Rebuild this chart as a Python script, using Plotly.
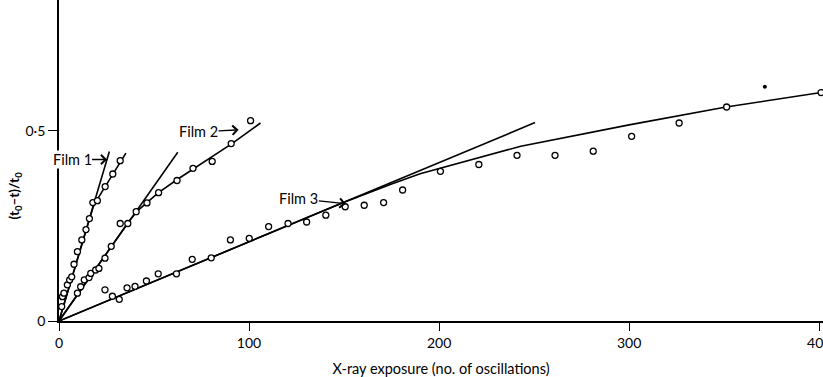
import plotly.graph_objects as go

# ---- data ----
film1_x = [1.4, 1.8, 2.6, 4.4, 5.6, 6.7, 7.9, 9.7, 12.0, 14.2, 16.0, 17.8, 20.2, 24.3, 28.3, 32.2]
film1_y = [0.038, 0.064, 0.073, 0.095, 0.108, 0.116, 0.149, 0.182, 0.213, 0.240, 0.269, 0.311, 0.316, 0.353, 0.386, 0.421]

film2_x = [9.7, 11.4, 13.3, 15.8, 16.7, 19.3, 21.0, 24.2, 27.5, 32.2, 36.2, 40.6, 46.3, 52.4, 62.1, 70.5, 80.6, 90.6, 100.8]
film2_y = [0.073, 0.090, 0.108, 0.114, 0.125, 0.134, 0.138, 0.165, 0.196, 0.256, 0.256, 0.287, 0.310, 0.337, 0.369, 0.401, 0.419, 0.466, 0.526]

film3_x = [24.2, 28.1, 31.7, 35.8, 40.0, 46.0, 52.2, 61.8, 70.1, 80.1, 90.2, 100.1, 110.3, 120.5, 130.3, 140.4,
           150.6, 160.6, 170.8, 180.8, 200.7, 220.9, 241.0, 261.0, 281.1, 301.3, 326.3, 351.3, 401.0]
film3_y = [0.082, 0.065, 0.057, 0.087, 0.091, 0.105, 0.124, 0.124, 0.162, 0.166, 0.213, 0.217, 0.248, 0.256, 0.260, 0.278,
           0.300, 0.304, 0.311, 0.344, 0.393, 0.411, 0.435, 0.435, 0.446, 0.485, 0.520, 0.562, 0.600]

# fitted lines drawn on the figure (initial tangents and smooth curves)
tan1_x = [0, 26.5]
tan1_y = [0, 0.445]
curve1_x = [0, 15, 18, 20, 24, 28, 32, 35.2]
curve1_y = [0, 0.252, 0.300, 0.318, 0.351, 0.384, 0.416, 0.441]

tan2_x = [0, 62.5]
tan2_y = [0, 0.443]
curve2_x = [0, 36, 41, 46, 52, 62, 71, 81, 91, 106]
curve2_y = [0, 0.256, 0.288, 0.311, 0.336, 0.371, 0.400, 0.433, 0.466, 0.520]

tan3_x = [0, 250.5]
tan3_y = [0, 0.521]
curve3_x = [0, 150, 175, 190, 243, 300, 351, 401.0]
curve3_y = [0, 0.312, 0.360, 0.387, 0.459, 0.515, 0.562, 0.600]

speck_x = [371.4]
speck_y = [0.615]

labels = ["Film 1", "Film 2", "Film 3"]
label_tip_x = [25.3, 94.5, 150.9]
label_tip_y = [0.424, 0.502, 0.308]

x_ticks = [0, 100, 200, 300, 400]
y_ticks = [0, 0.5]
y_ticklabels = ["0", "0·5"]

FONT = "Lato, 'Open Sans', sans-serif"

fig = go.Figure()

line_style = dict(color="black", width=1.6)
for lx, ly in [(tan1_x, tan1_y), (curve1_x, curve1_y), (tan2_x, tan2_y),
               (curve2_x, curve2_y), (tan3_x, tan3_y), (curve3_x, curve3_y)]:
    fig.add_trace(go.Scatter(x=lx, y=ly, mode="lines", line=line_style,
                             showlegend=False, hoverinfo="skip", cliponaxis=False))

marker_style = dict(symbol="circle", size=6, color="white",
                    line=dict(color="black", width=1.3))
for px, py, name in [(film1_x, film1_y, "Film 1"), (film2_x, film2_y, "Film 2"),
                     (film3_x, film3_y, "Film 3")]:
    fig.add_trace(go.Scatter(x=px, y=py, mode="markers", marker=marker_style,
                             name=name, showlegend=False, cliponaxis=False))

fig.add_trace(go.Scatter(x=speck_x, y=speck_y, mode="markers",
                         marker=dict(color="black", size=4), showlegend=False,
                         hoverinfo="skip"))

offsets = [(-35, 0), (-40, 2), (-47, -5)]
for txt, tx, ty, (ax, ay) in zip(labels, label_tip_x, label_tip_y, offsets):
    fig.add_annotation(x=tx, y=ty, xref="x", yref="y", text=txt,
                       showarrow=True, ax=ax, ay=ay, arrowhead=4, arrowsize=1.3,
                       arrowwidth=1.4, arrowcolor="black", bgcolor="white", borderpad=0,
                       font=dict(family=FONT, size=14.5, color="black"))

fig.add_annotation(xref="paper", yref="paper", x=-0.058, y=0.39,
                   xanchor="center", yanchor="middle",
                   text="<b>(t<sub>0</sub>–t)/t<sub>0</sub></b>", textangle=-90,
                   showarrow=False, font=dict(family=FONT, size=13.5, color="black"))

fig.update_xaxes(range=[0, 402], tickvals=x_ticks, ticktext=[str(v) for v in x_ticks],
                 showline=True, linecolor="black", linewidth=1.8,
                 ticks="outside", ticklen=8, tickwidth=1.4, tickcolor="black",
                 showgrid=False, zeroline=False, ticklabeloverflow="allow",
                 automargin=False,
                 tickfont=dict(family=FONT, size=14, color="black"),
                 title=dict(text="X-ray exposure (no. of oscillations)",
                            font=dict(family=FONT, size=14.5, color="black"), standoff=15))
fig.update_yaxes(range=[0, 0.843], tickvals=y_ticks, ticktext=y_ticklabels,
                 showline=True, linecolor="black", linewidth=1.8,
                 ticks="outside", ticklen=9, tickwidth=1.4, tickcolor="black",
                 showgrid=False, zeroline=False, automargin=False,
                 tickfont=dict(family=FONT, size=14, color="black"))

fig.update_layout(width=823, height=377,
                  margin=dict(l=59, r=0, t=0, b=56),
                  plot_bgcolor="white", paper_bgcolor="white",
                  showlegend=False)

fig.write_html("out.html")
